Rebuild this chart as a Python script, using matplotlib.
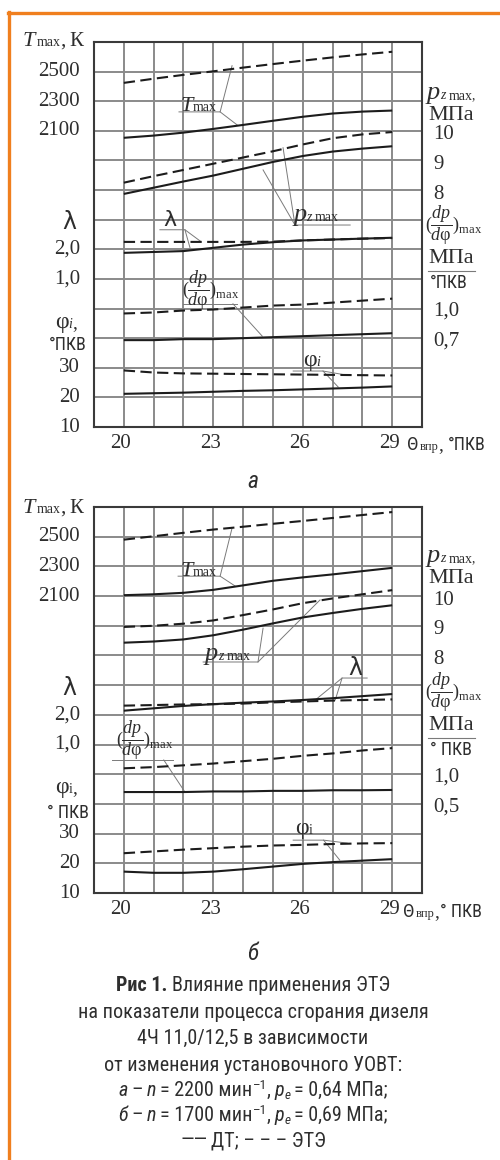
import numpy as np
import matplotlib
matplotlib.use("Agg")
import matplotlib.pyplot as plt
from matplotlib import font_manager as fm
from matplotlib.lines import Line2D
from matplotlib.transforms import IdentityTransform, blended_transform_factory, offset_copy

# ---------------- data ----------------
theta = [20, 21, 22, 23, 24, 25, 26, 27, 28, 29]

# a: n = 2200 min-1 (DT = solid, ETE = dashed)
a_tmax_dt = [2053, 2068, 2088, 2113, 2140, 2168, 2195, 2217, 2230, 2237]
a_tmax_ete = [2424, 2452, 2478, 2502, 2527, 2551, 2574, 2596, 2616, 2634]
a_pz_dt = [7.87, 8.08, 8.29, 8.49, 8.72, 8.95, 9.15, 9.30, 9.40, 9.48]
a_pz_ete = [8.25, 8.47, 8.68, 8.89, 9.10, 9.31, 9.54, 9.75, 9.88, 9.96]
a_lam_dt = [1.88, 1.91, 1.94, 2.05, 2.16, 2.24, 2.30, 2.33, 2.36, 2.39]
a_lam_ete = [2.25, 2.25, 2.25, 2.25, 2.25, 2.26, 2.30, 2.33, 2.36, 2.38]
a_dp_dt = [0.68, 0.68, 0.69, 0.69, 0.70, 0.71, 0.72, 0.73, 0.74, 0.75]
a_dp_ete = [0.95, 0.96, 0.98, 0.99, 1.01, 1.03, 1.04, 1.06, 1.08, 1.10]
a_phi_dt = [21.2, 21.4, 21.6, 21.9, 22.2, 22.4, 22.7, 23.0, 23.3, 23.7]
a_phi_ete = [29.1, 28.4, 28.1, 28.0, 27.9, 27.8, 27.7, 27.6, 27.5, 27.4]

# b: n = 1700 min-1
b_tmax_dt = [2106, 2112, 2122, 2142, 2172, 2203, 2226, 2246, 2268, 2290]
b_tmax_ete = [2480, 2503, 2526, 2548, 2567, 2587, 2606, 2626, 2646, 2666]
b_pz_dt = [8.43, 8.47, 8.54, 8.68, 8.87, 9.08, 9.28, 9.43, 9.57, 9.69]
b_pz_ete = [8.96, 9.00, 9.07, 9.18, 9.36, 9.55, 9.76, 9.92, 10.06, 10.20]
b_lam_dt = [2.14, 2.22, 2.30, 2.36, 2.41, 2.45, 2.50, 2.56, 2.63, 2.70]
b_lam_ete = [2.31, 2.33, 2.35, 2.36, 2.38, 2.42, 2.45, 2.48, 2.50, 2.52]
b_dp_dt = [0.70, 0.70, 0.70, 0.71, 0.71, 0.72, 0.72, 0.73, 0.73, 0.735]
b_dp_ete = [1.10, 1.12, 1.15, 1.18, 1.22, 1.26, 1.31, 1.35, 1.40, 1.44]
b_phi_dt = [17.2, 16.8, 16.8, 17.2, 18.0, 18.9, 19.8, 20.4, 20.9, 21.4]
b_phi_ete = [23.4, 24.0, 24.6, 25.1, 25.6, 26.0, 26.2, 26.5, 26.7, 26.8]

x_tick_labels = [20, 23, 26, 29]
t_ticks = [2500, 2300, 2100]
lam_ticks = [(2.0, "2,0"), (1.0, "1,0")]
phi_ticks = [30, 20, 10]
pz_ticks = [10, 9, 8]
a_dp_ticks = [(1.0, "1,0"), (0.7, "0,7")]
b_dp_ticks = [(1.0, "1,0"), (0.5, "0,5")]

# value ranges of each quantity over the 13 grid rows
lim_T = (100, 2700)
lim_pz = (0, 13)
lim_lam = (-4, 9)
lim_phi = (10, 140)
a_lim_dp = (-0.2, 3.7)
b_lim_dp = (-1.0, 5.5)

# ---------------- style ----------------
W, H, DPI = 500, 1160, 100
INK = "#1c1c1c"
TXT = "#2e2e2e"
GRID = "#8a8a8a"
FRAME = "#3a3a3a"
LEAD = "#7a7a7a"
ORANGE = "#F07F1E"
SERIF = "Liberation Serif"

names = {f.name for f in fm.fontManager.ttflist}
COND, STRETCH = "DejaVu Sans", "condensed"
for cand in ["Liberation Sans Narrow", "Roboto Condensed", "Open Sans Condensed"]:
    if cand in names:
        COND, STRETCH = cand, "normal"
        break

plt.rcParams["mathtext.fontset"] = "custom"
plt.rcParams["mathtext.rm"] = SERIF
plt.rcParams["mathtext.it"] = SERIF + ":italic"
plt.rcParams["mathtext.bf"] = SERIF + ":bold"

fig = plt.figure(figsize=(W / DPI, H / DPI), dpi=DPI, facecolor="white")
IDT = IdentityTransform()
REN = fig.canvas.get_renderer()


def Y(py):
    return H - py


def rich(x, y, pieces, ha="left"):
    """Draw a run of differently styled text pieces on one baseline (display px)."""
    arts, cur = [], x
    for s, kw in pieces:
        kw = dict(kw)
        dy = kw.pop("dy", 0)
        gap = kw.pop("gap", 0)
        cur += gap
        t = fig.text(cur, y + dy, s, transform=IDT, ha="left", va="baseline",
                     color=kw.pop("color", TXT), **kw)
        cur += t.get_window_extent(REN).width
        arts.append(t)
    shift = {"left": 0, "center": (cur - x) / 2, "right": cur - x}[ha]
    for t in arts:
        px, py = t.get_position()
        t.set_position((px - shift, py))


def num(size=15):
    return dict(family=SERIF, size=size)


def ital(size=16):
    return dict(family=SERIF, size=size, style="italic")


def cond(size=13, **extra):
    d = dict(family=COND, size=size, stretch=STRETCH)
    d.update(extra)
    return d


DPDPHI = r"$(\dfrac{dp}{d\mathrm{φ}})_{\mathrm{max}}$"


def panel(box, series, lim_dp):
    left, top, right, bottom = box
    ax = fig.add_axes([left / W, 1 - bottom / H, (right - left) / W, (bottom - top) / H])
    ax.set_xlim(19, 30)
    ax.set_ylim(0, 13)
    ax.set_xticks(range(20, 30))
    ax.set_yticks(range(1, 13))
    ax.tick_params(length=0, labelbottom=False, labelleft=False)
    ax.patch.set_visible(False)
    for sp in ax.spines.values():
        sp.set_color(FRAME)
        sp.set_linewidth(1.5)
    lims = {"rows": (0, 13), "T": lim_T, "pz": lim_pz, "lam": lim_lam, "dp": lim_dp,
            "phi": lim_phi}
    ov = {}
    for key, lim in lims.items():
        o = ax.twinx()
        o.set_ylim(*lim)
        o.axis("off")
        ov[key] = o
    # coordinate grid (one line per degree and per scale row), laid under the axes
    x0, y0 = ax.transData.transform((19, 0))
    x1, y1 = ax.transData.transform((30, 13))
    for xv in ax.get_xticks():
        xd = round(ax.transData.transform((xv, 0))[0])
        fig.add_artist(Line2D([xd, xd], [y0, y1], transform=IDT, color=GRID, lw=1.4,
                              zorder=-1))
    for rv in ax.get_yticks():
        yd = round(ax.transData.transform((19, rv))[1])
        fig.add_artist(Line2D([x0, x1], [yd, yd], transform=IDT, color=GRID, lw=1.4,
                              zorder=-1))
    for key, (dt, ete) in series.items():
        ov[key].plot(theta, dt, color=INK, lw=1.5, solid_capstyle="butt")
        ov[key].plot(theta, ete, color=INK, lw=1.5, dashes=(5.4, 2.6))
    return ax, ov


def ytick(o, x_px, val, s, ha, dy=0, size=15):
    tr = offset_copy(blended_transform_factory(IDT, o.transData), fig=fig, x=0, y=-dy, units="dots")
    fig.text(x_px, val, s, transform=tr, ha=ha, va="center", family=SERIF, size=size, color=TXT)


def at(ax, xd, rd):
    return ax.transData.transform((xd, rd))


def leader(ov, pts):
    xs, ys = zip(*pts)
    ov["rows"].plot(xs, ys, color=LEAD, lw=0.7, zorder=3)


def fig_line(x0, x1, py, color=LEAD, lw=0.8):
    fig.add_artist(Line2D([x0, x1], [Y(py), Y(py)], transform=IDT, color=color, lw=lw))


def decorate(ax, ov, s):
    # left scale labels
    rich(23, Y(s["top"]), [("T", ital(16)), ("max", dict(num(10), gap=1)), (",", num(15)),
                           ("К", dict(num(15), gap=4))])
    for v in t_ticks:
        ytick(ov["T"], 80, v, str(v), "right")
    fig.text(69, Y(s["lam_lbl"]), "λ", transform=IDT, ha="center", va="center",
             family="DejaVu Sans", size=17, color=TXT)
    for v, lab in lam_ticks:
        ytick(ov["lam"], 80, v, lab, "right")
    rich(55, Y(s["phi_lbl"]), [("φ", num(17)), ("i", s["phi_sub"]), (",", num(14))])
    fig.text(68, Y(s["pkv_left"]), s["pkv_txt"], transform=IDT, ha="center", va="center",
             color=TXT, **cond(13))
    for v in phi_ticks:
        ytick(ov["phi"], 80, v, str(v), "right")
    # x ticks and label
    tr = blended_transform_factory(ax.transData, IDT)
    for v in x_tick_labels:
        fig.text(v - 0.1, Y(s["xt"]), str(v), transform=tr, ha="center", va="center",
                 family=SERIF, size=15, color=TXT)
    rich(s["xl_x"], Y(s["xt"] + 7), [("Θ", cond(14)), ("впр", dict(num(9), gap=1)),
                                     (",", num(14)), (s["pkv_txt"], dict(cond(13), gap=s["xl_gap"]))])
    # right scale labels
    rich(427, Y(s["pz_lbl"]), [("p", ital(19)), ("z", ital(10)), ("max,", dict(num(10), gap=3))])
    fig.text(428, Y(s["pz_lbl"] + 21), "МПа", transform=IDT, va="baseline", family=SERIF,
             size=16, color=TXT)
    for v in pz_ticks:
        ytick(ov["pz"], 433, v, str(v), "left", dy=4)
    fig.text(425, Y(s["dp_lbl"]), DPDPHI, transform=IDT, va="center", size=13, color=TXT,
             math_fontfamily="custom")
    fig.text(428, Y(s["dp_lbl"] + 38), "МПа", transform=IDT, va="baseline", family=SERIF,
             size=16, color=TXT)
    fig_line(428, 475, s["dp_lbl"] + 46)
    fig.text(430, Y(s["dp_lbl"] + 58), s["pkv_txt"], transform=IDT, va="center", color=TXT,
             **cond(13))
    for v, lab in s["dp_ticks"]:
        ytick(ov["dp"], 433, v, lab, "left", dy=3)
    rich(253, Y(s["letter_y"]), [(s["letter"], cond(17, style="italic"))], ha="center")


# ---------------- figure ----------------
# orange frame
fig.add_artist(Line2D([9, 9], [0, Y(12)], transform=IDT, color=ORANGE, lw=2.4))
fig.add_artist(Line2D([8, W], [Y(13), Y(13)], transform=IDT, color=ORANGE, lw=2.4))

# panel a
ax_a, ov_a = panel((94, 42, 422, 427),
                   {"T": (a_tmax_dt, a_tmax_ete), "pz": (a_pz_dt, a_pz_ete),
                    "lam": (a_lam_dt, a_lam_ete), "dp": (a_dp_dt, a_dp_ete),
                    "phi": (a_phi_dt, a_phi_ete)}, a_lim_dp)
decorate(ax_a, ov_a, dict(top=46, lam_lbl=222, phi_lbl=328, phi_sub=ital(10), pkv_left=345,
                          pkv_txt="°ПКВ", xt=443, xl_x=407, xl_gap=5, pz_lbl=99, dp_lbl=225,
                          dp_ticks=a_dp_ticks, letter="а", letter_y=488))

# in-plot labels, panel a
x, y = at(ax_a, 21.89, 10.68)
rich(x, y, [("T", ital(16)), ("max", num(10))])
leader(ov_a, [(21.85, 10.64), (23.23, 10.64), (23.63, 12.2)])
leader(ov_a, [(23.23, 10.64), (23.80, 10.2)])
x, y = at(ax_a, 25.68, 6.96)
rich(x, y, [("p", ital(19)), ("z", ital(10)), ("max", dict(num(10), gap=3))])
leader(ov_a, [(27.59, 6.82), (25.74, 6.82), (24.67, 8.68)])
leader(ov_a, [(25.74, 6.82), (25.34, 9.43)])
x, y = at(ax_a, 21.55, 6.99)
fig.text(x, y, "λ", transform=IDT, ha="center", va="center", family="DejaVu Sans", size=16,
         color=TXT)
leader(ov_a, [(21.21, 6.66), (22.05, 6.66), (22.56, 6.28)])
leader(ov_a, [(22.05, 6.66), (22.22, 6.05)])
x, y = at(ax_a, 22.9, 4.63)
fig.text(x, y, DPDPHI, transform=IDT, ha="center", va="center", size=13, color=TXT,
         math_fontfamily="custom")
leader(ov_a, [(21.99, 4.16), (23.8, 4.16)])
leader(ov_a, [(23.66, 4.16), (24.64, 3.07)])
x, y = at(ax_a, 26.01, 2.06)
rich(x, y, [("φ", num(17)), ("i", ital(10))])
leader(ov_a, [(25.68, 1.89), (26.68, 1.89), (27.19, 1.35)])
leader(ov_a, [(26.68, 1.89), (27.42, 1.76)])

# panel b
ax_b, ov_b = panel((94, 507, 422, 893),
                   {"T": (b_tmax_dt, b_tmax_ete), "pz": (b_pz_dt, b_pz_ete),
                    "lam": (b_lam_dt, b_lam_ete), "dp": (b_dp_dt, b_dp_ete),
                    "phi": (b_phi_dt, b_phi_ete)}, b_lim_dp)
decorate(ax_b, ov_b, dict(top=513, lam_lbl=688, phi_lbl=793, phi_sub=num(10), pkv_left=813,
                          pkv_txt="° ПКВ", xt=910, xl_x=403, xl_gap=1, pz_lbl=562, dp_lbl=692,
                          dp_ticks=b_dp_ticks, letter="б", letter_y=960))

# in-plot labels, panel b
x, y = at(ax_b, 21.89, 10.67)
rich(x, y, [("T", ital(16)), ("max", num(10))])
leader(ov_b, [(21.82, 10.67), (23.23, 10.67), (23.63, 12.29)])
leader(ov_b, [(23.23, 10.67), (23.73, 10.34)])
x, y = at(ax_b, 22.72, 7.85)
rich(x, y, [("p", ital(19)), ("z", ital(10)), ("max", dict(num(10), gap=3))])
leader(ov_b, [(22.66, 7.78), (24.50, 7.78), (24.67, 8.92)])
leader(ov_b, [(24.50, 7.78), (26.58, 9.87)])
x, y = at(ax_b, 27.76, 7.58)
fig.text(x, y, "λ", transform=IDT, ha="center", va="center", family="DejaVu Sans", size=17,
         color=TXT)
leader(ov_b, [(28.16, 7.24), (27.32, 7.24), (26.42, 6.5)])
leader(ov_b, [(27.32, 7.24), (27.09, 6.5)])
x, y = at(ax_b, 20.71, 5.15)
fig.text(x, y, DPDPHI, transform=IDT, ha="center", va="center", size=13, color=TXT,
         math_fontfamily="custom")
leader(ov_b, [(19.6, 4.48), (21.65, 4.48)])
leader(ov_b, [(21.34, 4.48), (22.05, 3.4)])
x, y = at(ax_b, 25.74, 1.99)
rich(x, y, [("φ", num(17)), ("i", num(10))])
leader(ov_b, [(25.68, 1.78), (26.70, 1.78), (27.24, 1.11)])
leader(ov_b, [(26.70, 1.78), (27.49, 1.68)])

# ---------------- caption ----------------
cap = cond(14.5)
cap_it = cond(14.5, style="italic")
cap_sm = cond(9.5)
cx = 253
rich(cx, Y(991), [("Рис 1.", cond(14.5, weight="bold")), ("Влияние применения ЭТЭ", dict(cap, gap=4))], ha="center")
rich(cx, Y(1018), [("на показатели процесса сгорания дизеля", cap)], ha="center")
rich(cx, Y(1044), [("4Ч 11,0/12,5 в зависимости", cap)], ha="center")
rich(cx, Y(1071), [("от изменения установочного УОВТ:", cap)], ha="center")
rich(cx, Y(1096), [("а", cap_it), ("–", dict(cap, gap=4)), ("n", dict(cap_it, gap=4)),
                   ("= 2200 мин", dict(cap, gap=4)), ("–1", dict(cap_sm, dy=7)), (",", cap),
                   ("p", dict(cap_it, gap=4)), ("e", dict(cond(9.5, style="italic"), dy=-3)),
                   ("= 0,64 МПа;", dict(cap, gap=4))], ha="center")
rich(cx, Y(1121), [("б", cap_it), ("–", dict(cap, gap=4)), ("n", dict(cap_it, gap=4)),
                   ("= 1700 мин", dict(cap, gap=4)), ("–1", dict(cap_sm, dy=7)), (",", cap),
                   ("p", dict(cap_it, gap=4)), ("e", dict(cond(9.5, style="italic"), dy=-3)),
                   ("= 0,69 МПа;", dict(cap, gap=4))], ha="center")
rich(cx, Y(1146), [("——", cap), ("ДТ; – – – ЭТЭ", dict(cap, gap=4))], ha="center")

fig.savefig("out.png", dpi=DPI, facecolor="white")
